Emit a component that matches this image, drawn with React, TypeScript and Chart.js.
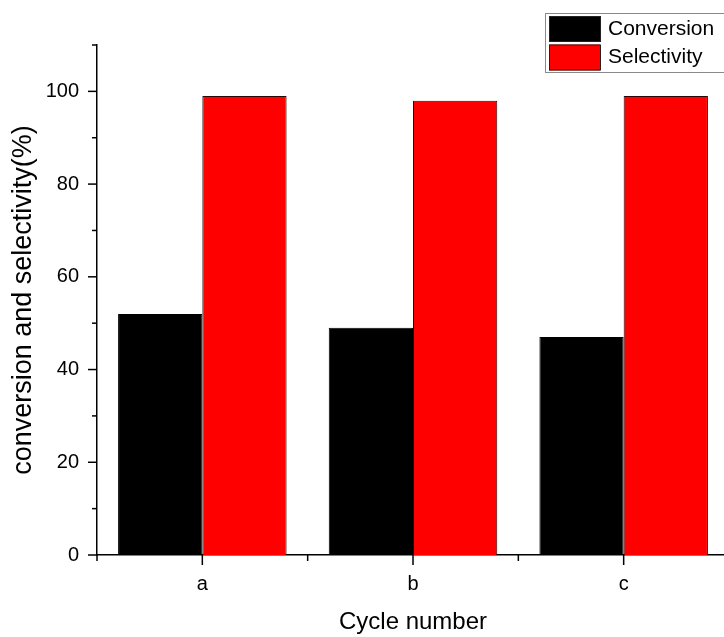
import React, { useEffect, useRef } from 'react';
import { Chart, registerables } from 'chart.js';

Chart.register(...registerables);

const categories = ['a', 'b', 'c'];
const conversion = [52, 49, 47];
const selectivity = [99, 98, 99];
const seriesLabels = ['Conversion', 'Selectivity'];
const yMin = 0;
const yMax = 110;
const yStep = 10;
const yLabelStep = 20;

const FONT = '"Liberation Sans", Arial, sans-serif';

const axisTicksPlugin = {
  id: 'axisTicks',
  afterDraw(chart: any) {
    const ctx = chart.ctx;
    const xs = chart.scales.x;
    const ys = chart.scales.y;
    const ax = chart.chartArea.left;
    const ay = chart.chartArea.bottom;
    ctx.save();
    ctx.strokeStyle = '#000';
    ctx.lineWidth = 1.5;
    const line = (x1: number, y1: number, x2: number, y2: number) => {
      ctx.beginPath();
      ctx.moveTo(x1, y1);
      ctx.lineTo(x2, y2);
      ctx.stroke();
    };
    for (let i = 0; i <= categories.length; i++) {
      const px = xs.getPixelForValue(i - 0.5);
      line(px, ay, px, ay + 6);
    }
    categories.forEach((_, i) => {
      const px = xs.getPixelForValue(i);
      line(px, ay, px, ay + 10);
    });
    for (let v = yMin; v <= yMax; v += yStep) {
      const py = ys.getPixelForValue(v);
      const len = v % yLabelStep === 0 ? 9 : 5;
      line(ax - len, py, ax, py);
    }
    ctx.restore();
  },
};

const boxLegendPlugin = {
  id: 'boxLegend',
  afterDraw(chart: any) {
    const ctx = chart.ctx;
    ctx.save();
    const bx = 545.5;
    const by = 13.5;
    ctx.fillStyle = '#fff';
    ctx.fillRect(bx, by, 200, 59);
    ctx.strokeStyle = '#8a8a8a';
    ctx.lineWidth = 1;
    ctx.strokeRect(bx, by, 200, 59);
    chart.data.datasets.forEach((ds: any, i: number) => {
      const sy = 16 + i * 28.5;
      ctx.fillStyle = ds.backgroundColor;
      ctx.fillRect(549, sy, 51, 26);
      ctx.strokeStyle = '#222';
      ctx.strokeRect(549.5, sy + 0.5, 51, 25);
      ctx.fillStyle = '#000';
      ctx.font = `21px ${FONT}`;
      ctx.textBaseline = 'middle';
      ctx.textAlign = 'left';
      ctx.fillText(ds.label, 608, sy + 13);
    });
    ctx.restore();
  },
};

export default function App() {
  const ref = useRef<HTMLCanvasElement>(null);

  useEffect(() => {
    if (!ref.current) return;
    const chart = new Chart(ref.current, {
      type: 'bar',
      data: {
        labels: categories,
        datasets: [
          {
            label: seriesLabels[0],
            data: conversion,
            backgroundColor: '#000000',
            borderColor: '#000000',
            borderWidth: 1,
            categoryPercentage: 0.8,
            barPercentage: 1.0,
          },
          {
            label: seriesLabels[1],
            data: selectivity,
            backgroundColor: '#ff0000',
            borderColor: '#2a0808',
            borderWidth: 1,
            categoryPercentage: 0.8,
            barPercentage: 1.0,
          },
        ],
      },
      options: {
        responsive: false,
        animation: false,
        devicePixelRatio: 1,
        layout: { padding: { top: 45, left: 0, right: 0, bottom: 0 } },
        plugins: {
          legend: { display: false },
          tooltip: { enabled: false },
        },
        scales: {
          x: {
            type: 'category',
            offset: true,
            z: 1,
            grid: { display: false, drawTicks: true, tickLength: 9 },
            border: { display: true, color: '#000', width: 1.5 },
            ticks: {
              color: '#000',
              font: { family: FONT, size: 20 },
              padding: 8,
              maxRotation: 0,
            },
            title: {
              display: true,
              text: 'Cycle number',
              color: '#000',
              font: { family: FONT, size: 24 },
              padding: { top: 0, bottom: 0 },
            },
            afterFit(scale: any) {
              scale.height = 82;
            },
          },
          y: {
            min: yMin,
            max: yMax,
            z: 1,
            grid: { display: false, drawTicks: true, tickLength: 9 },
            border: { display: true, color: '#000', width: 1.5 },
            ticks: {
              stepSize: yStep,
              autoSkip: false,
              color: '#000',
              font: { family: FONT, size: 20 },
              padding: 9,
              callback: (v: any) => (Number(v) % yLabelStep === 0 && Number(v) <= 100 ? String(v) : ''),
            },
            title: {
              display: true,
              text: 'conversion and selectivity(%)',
              color: '#000',
              font: { family: FONT, size: 27 },
              padding: { top: 7, bottom: 0 },
            },
            afterFit(scale: any) {
              scale.width = 97;
            },
          },
        },
      },
      plugins: [axisTicksPlugin, boxLegendPlugin],
    });
    return () => chart.destroy();
  }, []);

  return (
    <div
      style={{
        position: 'absolute',
        left: 0,
        top: 0,
        width: 724,
        height: 637,
        overflow: 'hidden',
        background: '#fff',
      }}
    >
      <canvas ref={ref} width={729} height={637} style={{ display: 'block' }} />
    </div>
  );
}
